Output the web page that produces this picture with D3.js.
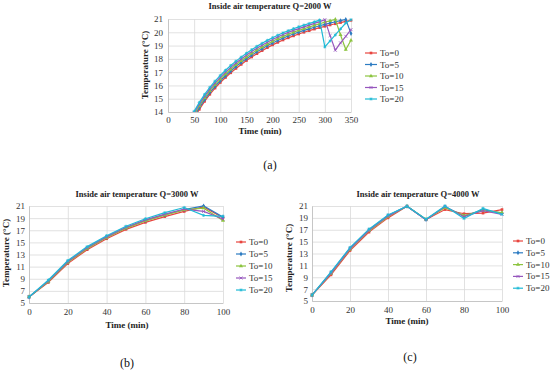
<!DOCTYPE html>
<html>
<head>
<meta charset="utf-8">
<script src="https://cdn.jsdelivr.net/npm/d3@7"></script>
<style>
  body { margin: 0; background: #fff; }
  svg text { font-family: "Liberation Serif", "DejaVu Serif", serif; }
</style>
</head>
<body>
<svg id="chart" width="550" height="370"></svg>
<script>
// series names shared by all three panels
const seriesNames = ["To=0", "To=5", "To=10", "To=15", "To=20"]
const colors = ["#e8453f", "#2d7cc2", "#8cc43f", "#9656bd", "#1fbad6"]

// panel (a) Q=2000 W, time 40..350 min
const timeA = [40,50,60,70,80,90,100,110,120,130,140,150,160,170,180,190,200,210,220,230,240,250,260,270,280,290,300,310,320,330,340,350]
const tempA0  = [12.8,13.55,14.2,14.8,15.33,15.8,16.22,16.6,16.95,17.28,17.58,17.87,18.14,18.39,18.62,18.84,19.05,19.24,19.42,19.58,19.73,19.87,20.0,20.12,20.24,20.35,20.45,20.55,20.64,20.73,20.82,20.9]
const tempA5  = [12.92,13.68,14.33,14.93,15.46,15.93,16.35,16.73,17.09,17.42,17.72,18.01,18.28,18.53,18.76,18.98,19.19,19.38,19.56,19.72,19.87,20.01,20.14,20.26,20.38,20.49,20.59,20.69,20.79,20.88,20.97,19.9]
const tempA10 = [13.05,13.81,14.46,15.06,15.59,16.06,16.48,16.86,17.22,17.55,17.85,18.14,18.41,18.66,18.89,19.11,19.32,19.51,19.69,19.85,20.0,20.14,20.27,20.4,20.52,20.64,20.76,20.87,20.97,19.8,18.7,19.4]
const tempA15 = [13.18,13.94,14.59,15.19,15.72,16.19,16.61,17.0,17.36,17.69,17.99,18.28,18.55,18.8,19.03,19.25,19.46,19.65,19.83,19.99,20.14,20.28,20.41,20.54,20.67,20.8,20.95,19.75,18.65,19.2,19.7,20.2]
const tempA20 = [13.3,14.05,14.72,15.32,15.85,16.32,16.75,17.14,17.5,17.83,18.13,18.42,18.69,18.94,19.17,19.39,19.59,19.78,19.96,20.12,20.27,20.41,20.54,20.66,20.78,20.92,18.9,19.35,19.8,20.25,20.7,20.95]

// panels (b) and (c), time 0..100 min
const timeBC = [0,10,20,30,40,50,60,70,80,90,100]
const tempB0  = [6,8.4,11.5,13.8,15.6,17.15,18.3,19.25,20.1,20.85,19.05]
const tempB5  = [6,8.6,11.75,14.05,15.85,17.4,18.6,19.55,20.4,21.0,19.2]
const tempB10 = [6,8.55,11.7,14.0,15.8,17.35,18.55,19.5,20.35,20.65,18.6]
const tempB15 = [6,8.65,11.85,14.15,15.95,17.5,18.7,19.65,20.5,20.1,18.85]
const tempB20 = [6,8.8,12.0,14.3,16.1,17.65,18.9,19.9,20.75,19.45,19.3]

const tempC0  = [6,9.4,13.5,16.6,19.0,20.95,18.7,20.4,19.7,19.8,20.4]
const tempC5  = [6,9.8,13.9,17.0,19.4,20.95,18.7,20.9,19.3,20.4,19.8]
const tempC10 = [6,9.6,13.7,16.8,19.2,20.95,18.75,20.7,19.4,20.2,19.9]
const tempC15 = [6,9.7,13.8,16.9,19.3,20.95,18.7,20.9,19.2,20.2,19.6]
const tempC20 = [6,9.9,14.0,17.1,19.5,20.95,18.75,21.0,18.9,20.6,19.6]

// tick values
const ticksXA = [0,50,100,150,200,250,300,350]
const ticksYA = [14,15,16,17,18,19,20,21]
const ticksXBC = [0,20,40,60,80,100]
const ticksYBC = [5,7,9,11,13,15,17,19,21]

const svg = d3.select("#chart")

// marker shapes, one per series
const shapes = [d3.symbolSquare, d3.symbolDiamond, d3.symbolTriangle, d3.symbolX, d3.symbolAsterisk]
const filledShape = [true, true, true, false, false]

function drawPanel(p) {
    const x = d3.scaleLinear().domain(p.xDomain).range([p.left, p.right])
    const y = d3.scaleLinear().domain(p.yDomain).range([p.bottom, p.top])
    const g = svg.append("g")

    //grid lines
    g.append("g")
        .attr("transform", "translate(0," + p.bottom + ")")
        .call(d3.axisBottom(x).tickValues(p.xTicks).tickSize(-(p.bottom - p.top)).tickFormat(""))
        .call(a => a.select(".domain").remove())
        .selectAll("line").attr("stroke", "#d9d9d9").attr("stroke-width", 0.8)
    g.append("g")
        .attr("transform", "translate(" + p.left + ",0)")
        .call(d3.axisLeft(y).tickValues(p.yTicks).tickSize(-(p.right - p.left)).tickFormat(""))
        .call(a => a.select(".domain").remove())
        .selectAll("line").attr("stroke", "#d9d9d9").attr("stroke-width", 0.8)

    //axes with labels
    const xAxis = g.append("g")
        .attr("transform", "translate(0," + p.bottom + ")")
        .call(d3.axisBottom(x).tickValues(p.xTicks).tickSize(0).tickPadding(p.xPad).tickFormat(d3.format("d")))
    const yAxis = g.append("g")
        .attr("transform", "translate(" + p.left + ",0)")
        .call(d3.axisLeft(y).tickValues(p.yTicks).tickSize(0).tickPadding(p.yPad).tickFormat(d3.format("d")))
    ;[xAxis, yAxis].forEach(a => {
        a.select(".domain").attr("stroke", "#bfbfbf").attr("stroke-width", 0.8)
        a.selectAll("text").attr("font-family", "Liberation Serif").attr("font-size", 9).attr("fill", "#333")
    })

    //clip so points below the axis minimum are cut off
    const clipId = "clip" + p.id
    g.append("clipPath").attr("id", clipId)
        .append("rect")
        .attr("x", p.left - 3).attr("y", p.top - 3)
        .attr("width", p.right - p.left + 6).attr("height", p.bottom - p.top + 3)
    const plot = g.append("g").attr("clip-path", "url(#" + clipId + ")")

    const line = d3.line().x(d => x(d[0])).y(d => y(d[1]))

    p.series.forEach((vals, i) => {
        const pts = p.time.map((t, k) => [t, vals[k]])
        plot.append("path")
            .attr("d", line(pts))
            .attr("fill", "none")
            .attr("stroke", colors[i])
            .attr("stroke-width", 1.2)
        plot.selectAll(".m" + i)
            .data(pts)
            .enter()
            .append("path")
            .attr("transform", d => "translate(" + x(d[0]) + "," + y(d[1]) + ")")
            .attr("d", d3.symbol().type(shapes[i]).size(p.markerSize))
            .attr("fill", filledShape[i] ? colors[i] : "none")
            .attr("stroke", colors[i])
            .attr("stroke-width", filledShape[i] ? 0 : 0.8)
    })

    //title
    g.append("text")
        .attr("x", p.titleX).attr("y", p.titleY)
        .attr("text-anchor", "middle")
        .attr("font-size", 8.5).attr("font-weight", "bold").attr("fill", "#222")
        .text(p.title)

    //axis titles
    g.append("text")
        .attr("x", p.xTitleX).attr("y", p.xTitleY)
        .attr("text-anchor", "middle")
        .attr("font-size", 9).attr("font-weight", "bold").attr("fill", "#222")
        .text("Time (min)")
    g.append("text")
        .attr("transform", "translate(" + p.yTitleX + "," + p.yTitleY + ")rotate(-90)")
        .attr("text-anchor", "middle")
        .attr("font-size", 9).attr("font-weight", "bold").attr("fill", "#222")
        .text("Temperature (°C)")

    //legend
    seriesNames.forEach((name, i) => {
        const ly = p.legendY + i * p.legendStep
        g.append("line")
            .attr("x1", p.legendX).attr("x2", p.legendX + p.legendLen)
            .attr("y1", ly).attr("y2", ly)
            .attr("stroke", colors[i]).attr("stroke-width", 1.2)
        g.append("path")
            .attr("transform", "translate(" + (p.legendX + p.legendLen / 2) + "," + ly + ")")
            .attr("d", d3.symbol().type(shapes[i]).size(p.markerSize))
            .attr("fill", filledShape[i] ? colors[i] : "none")
            .attr("stroke", colors[i])
            .attr("stroke-width", filledShape[i] ? 0 : 0.8)
        g.append("text")
            .attr("x", p.legendX + p.legendLen + 3).attr("y", ly + 3)
            .attr("font-size", 9).attr("fill", "#333")
            .text(name)
    })

    //panel letter
    g.append("text")
        .attr("x", p.tagX).attr("y", p.tagY)
        .attr("text-anchor", "middle")
        .attr("font-size", 12).attr("fill", "#111")
        .text(p.tag)
}

drawPanel({
    id: "a", title: "Inside air temperature Q=2000 W", tag: "(a)",
    time: timeA, series: [tempA0, tempA5, tempA10, tempA15, tempA20],
    xDomain: [0, 350], yDomain: [14, 21], xTicks: ticksXA, yTicks: ticksYA,
    left: 168, right: 351, top: 19, bottom: 112, xPad: 5, yPad: 5,
    titleX: 270, titleY: 9, xTitleX: 260, xTitleY: 134, yTitleX: 148, yTitleY: 65,
    legendX: 365, legendLen: 12, legendY: 53, legendStep: 11.5, markerSize: 7,
    tagX: 270, tagY: 169
})

drawPanel({
    id: "b", title: "Inside air temperature Q=3000 W", tag: "(b)",
    time: timeBC, series: [tempB0, tempB5, tempB10, tempB15, tempB20],
    xDomain: [0, 100], yDomain: [5, 21], xTicks: ticksXBC, yTicks: ticksYBC,
    left: 29, right: 223, top: 206, bottom: 303, xPad: 6, yPad: 4,
    titleX: 137, titleY: 197, xTitleX: 127, xTitleY: 328, yTitleX: 9, yTitleY: 253,
    legendX: 236, legendLen: 10, legendY: 242, legendStep: 12, markerSize: 7,
    tagX: 127, tagY: 367
})

drawPanel({
    id: "c", title: "Inside air temperature Q=4000 W", tag: "(c)",
    time: timeBC, series: [tempC0, tempC5, tempC10, tempC15, tempC20],
    xDomain: [0, 100], yDomain: [5, 21], xTicks: ticksXBC, yTicks: ticksYBC,
    left: 312, right: 502, top: 206, bottom: 301, xPad: 6, yPad: 4,
    titleX: 418, titleY: 197, xTitleX: 407, xTitleY: 324, yTitleX: 292, yTitleY: 258,
    legendX: 513, legendLen: 10, legendY: 241, legendStep: 11.8, markerSize: 7,
    tagX: 410, tagY: 361
})
</script>
</body>
</html>
